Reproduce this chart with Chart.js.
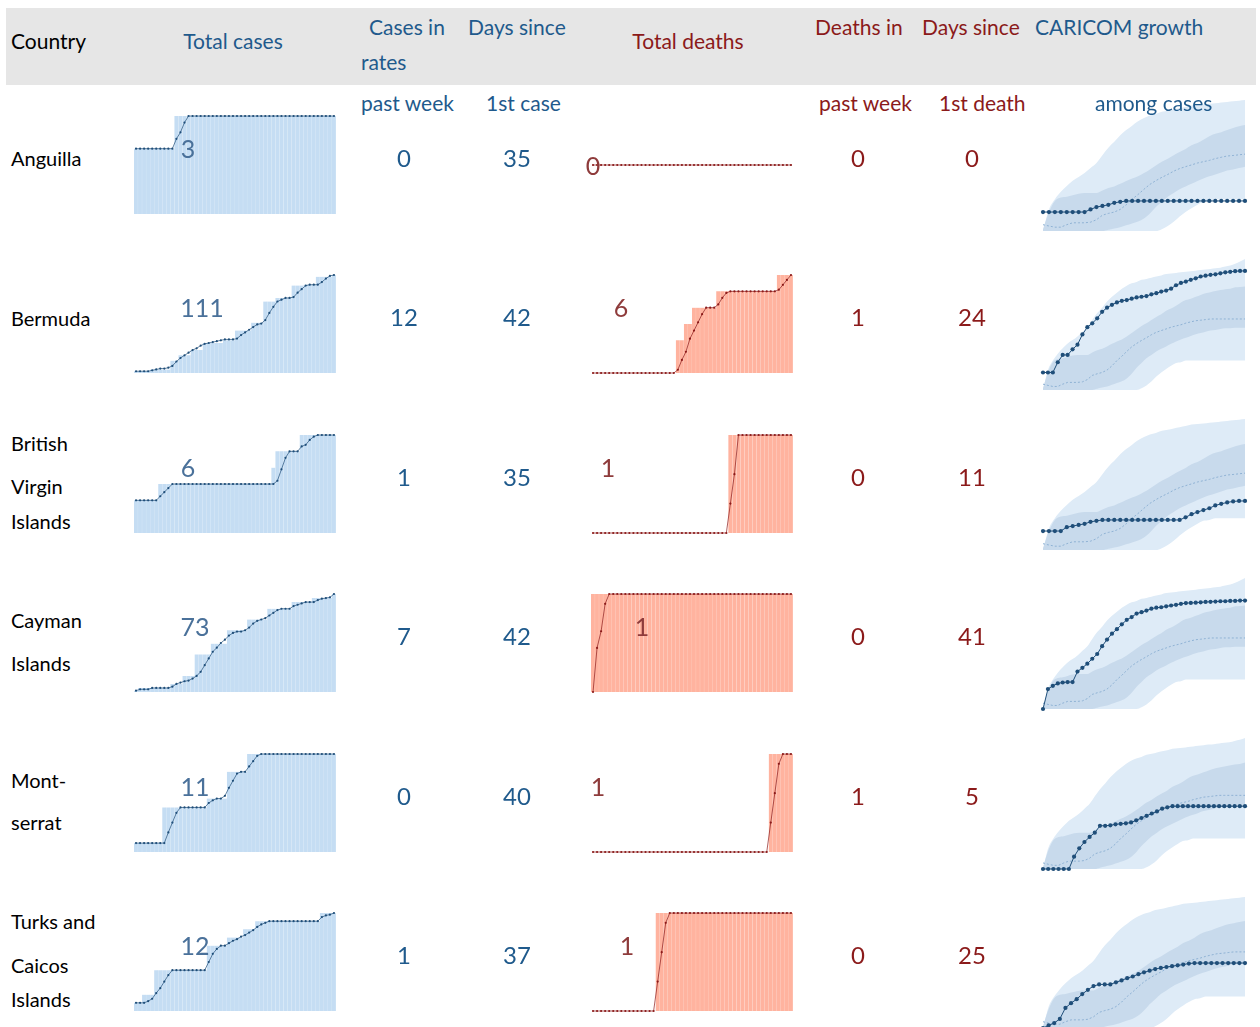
<!DOCTYPE html>
<html>
<head>
<meta charset="utf-8">
<script src="https://cdn.jsdelivr.net/npm/chart.js@4.4.0/dist/chart.umd.min.js"></script>
<style>
  body { margin: 0; background: #fff; font-family: Lato, "Open Sans", sans-serif; }
  #page { position: relative; width: 1260px; height: 1027px; overflow: hidden; }
  .hdr { position: absolute; left: 6px; top: 8px; width: 1250px; height: 77px; background: #e6e6e6; }
  .t { position: absolute; z-index: 2; white-space: nowrap; transform: translateY(-50%); font-size: 21px; line-height: 1; }
  .c { transform: translate(-50%, -50%); }
  .box { position: absolute; z-index: 1; }
</style>
</head>
<body>
<div id="page"><div class="hdr"></div></div>
<script>
// ---- table values ----
var countries = [['Anguilla'], ['Bermuda'], ['British', 'Virgin', 'Islands'], ['Cayman', 'Islands'], ['Mont-', 'serrat'], ['Turks and', 'Caicos', 'Islands']];
var totalCases = [3, 111, 6, 73, 11, 12];
var casesPastWeek = [0, 12, 1, 7, 0, 1];
var daysSinceFirstCase = [35, 42, 35, 42, 40, 37];
var totalDeaths = [0, 6, 1, 1, 1, 1];
var deathsPastWeek = [0, 1, 0, 0, 1, 0];
var daysSinceFirstDeath = [0, 24, 11, 41, 5, 25];

// ---- total cases sparklines (bars + dotted line), 50 days ----
var anguillaCasesBars = [2,2,2,2,2,2,2,2,2,2, 3,3,3,3,3,3,3,3,3,3, 3,3,3,3,3,3,3,3,3,3, 3,3,3,3,3,3,3,3,3,3, 3,3,3,3,3,3,3,3,3,3];
var anguillaCasesLine = [2,2,2,2,2,2,2,2,2,2, 2.3,2.5,2.8,3,3,3,3,3,3,3, 3,3,3,3,3,3,3,3,3,3, 3,3,3,3,3,3,3,3,3,3, 3,3,3,3,3,3,3,3,3,3];
var bermudaCasesBars = [2,2,2,2,4,4,4,4,4,14, 14,20,20,20,26,26,26,34,34,34, 34,34,37,37,37,48,48,48,48,57, 57,57,81,81,81,85,85,85,85,99, 99,99,100,100,100,109,109,109,109,111];
var bermudaCasesLine = [2,2,2,2,3,4,5,5,6,8, 13,17,20,23,26,28,31,33,34,35, 36,37,38,38,38,39,43,46,49,52, 55,56,60,68,75,81,83,85,85,86, 91,95,99,100,100,100,103,107,110,111];
var bviCasesBars = [2,2,2,2,2,2,3,3,3,3, 3,3,3,3,3,3,3,3,3,3, 3,3,3,3,3,3,3,3,3,3, 3,3,3,3,4,5,5,5,5,5, 5,6,6,6,6,6,6,6,6,6];
var bviCasesLine = [2,2,2,2,2,2,2.25,2.5,2.75,3, 3,3,3,3,3,3,3,3,3,3, 3,3,3,3,3,3,3,3,3,3, 3,3,3,3,3,3.2,3.9,4.6,5,5, 5,5.3,5.4,5.7,5.9,6,6,6,6,6];
var caymanCasesBars = [1,3,3,3,3,3,3,3,3,6, 6,6,12,12,12,28,28,28,28,36, 36,36,36,46,46,46,46,46,54,54, 54,54,54,62,62,62,62,62,62,67, 67,67,67,67,70,70,70,70,70,73];
var caymanCasesLine = [1,2,2,2,3,3,3,3,3,4, 6,7,8,8.5,10,12,15,20,25,30, 33,36.5,39,42,44,45,45,46,48,51, 53,54,55,57,59,61,62,62,62,64, 65,66,67,67,67,68.5,69.5,70,70.5,73];
var montserratCasesBars = [1,1,1,1,1,1,1,5,5,5, 5,5,5,5,5,5,5,5,6,6, 6,6,6,9,9,9,9,9,11,11, 11,11,11,11,11,11,11,11,11,11, 11,11,11,11,11,11,11,11,11,11];
var montserratCasesLine = [1,1,1,1,1,1,1,1,2.2,3.3, 4.4,5,5,5,5,5,5,5,5.5,5.8, 6,6,6.3,7.2,8,8.8,9,9,9.6,10.2, 10.8,11,11,11,11,11,11,11,11,11, 11,11,11,11,11,11,11,11,11,11];
var turksCasesBars = [1,1,2,2,2,5,5,5,5,5, 5,5,5,5,5,5,5,5,8,8, 8,8,8,9,9,9,9,10,10,10, 11,11,11,11,11,11,11,11,11,11, 11,11,11,11,11,11,12,12,12,12];
var turksCasesLine = [1,1,1,1.2,1.5,2.2,2.8,3.6,4.4,5, 5,5,5,5,5,5,5,5,6,7, 7.6,8,8,8.3,8.6,8.8,9.1,9.3,9.6,9.9, 10.3,10.6,10.8,11,11,11,11,11,11,11, 11,11,11,11,11,11,11.5,11.7,11.8,12];

// ---- total deaths sparklines, 50 days ----
var anguillaDeathsBars = [0,0,0,0,0,0,0,0,0,0, 0,0,0,0,0,0,0,0,0,0, 0,0,0,0,0,0,0,0,0,0, 0,0,0,0,0,0,0,0,0,0, 0,0,0,0,0,0,0,0,0,0];
var anguillaDeathsLine = [0,0,0,0,0,0,0,0,0,0, 0,0,0,0,0,0,0,0,0,0, 0,0,0,0,0,0,0,0,0,0, 0,0,0,0,0,0,0,0,0,0, 0,0,0,0,0,0,0,0,0,0];
var bermudaDeathsBars = [0,0,0,0,0,0,0,0,0,0, 0,0,0,0,0,0,0,0,0,0, 0,2,2,3,3,4,4,4,4,4, 4,5,5,5,5,5,5,5,5,5, 5,5,5,5,5,5,6,6,6,6];
var bermudaDeathsLine = [0,0,0,0,0,0,0,0,0,0, 0,0,0,0,0,0,0,0,0,0, 0,0.2,0.8,1.3,2.1,2.6,3.1,3.6,4,4, 4,4.2,4.6,4.9,5,5,5,5,5,5, 5,5,5,5,5,5,5.1,5.4,5.7,6];
var bviDeathsBars = [0,0,0,0,0,0,0,0,0,0, 0,0,0,0,0,0,0,0,0,0, 0,0,0,0,0,0,0,0,0,0, 0,0,0,0,1,1,1,1,1,1, 1,1,1,1,1,1,1,1,1,1];
var bviDeathsLine = [0,0,0,0,0,0,0,0,0,0, 0,0,0,0,0,0,0,0,0,0, 0,0,0,0,0,0,0,0,0,0, 0,0,0,0,0.3,0.6,1,1,1,1, 1,1,1,1,1,1,1,1,1,1];
var caymanDeathsBars = [1,1,1,1,1,1,1,1,1,1, 1,1,1,1,1,1,1,1,1,1, 1,1,1,1,1,1,1,1,1,1, 1,1,1,1,1,1,1,1,1,1, 1,1,1,1,1,1,1,1,1,1];
var caymanDeathsLine = [0,0.45,0.62,0.9,1,1,1,1,1,1, 1,1,1,1,1,1,1,1,1,1, 1,1,1,1,1,1,1,1,1,1, 1,1,1,1,1,1,1,1,1,1, 1,1,1,1,1,1,1,1,1,1];
var montserratDeathsBars = [0,0,0,0,0,0,0,0,0,0, 0,0,0,0,0,0,0,0,0,0, 0,0,0,0,0,0,0,0,0,0, 0,0,0,0,0,0,0,0,0,0, 0,0,0,0,1,1,1,1,1,1];
var montserratDeathsLine = [0,0,0,0,0,0,0,0,0,0, 0,0,0,0,0,0,0,0,0,0, 0,0,0,0,0,0,0,0,0,0, 0,0,0,0,0,0,0,0,0,0, 0,0,0,0,0.3,0.6,0.9,1,1,1];
var turksDeathsBars = [0,0,0,0,0,0,0,0,0,0, 0,0,0,0,0,0,1,1,1,1, 1,1,1,1,1,1,1,1,1,1, 1,1,1,1,1,1,1,1,1,1, 1,1,1,1,1,1,1,1,1,1];
var turksDeathsLine = [0,0,0,0,0,0,0,0,0,0, 0,0,0,0,0,0,0.3,0.6,0.9,1, 1,1,1,1,1,1,1,1,1,1, 1,1,1,1,1,1,1,1,1,1, 1,1,1,1,1,1,1,1,1,1];

// ---- CARICOM growth reference bands (cases by days since 1st case) ----
var caricomOuterLow = [1,1,1,1,1,1,1,1,1,1, 1,1,1,1,1,1,1,1,1,1, 1.07,1.2,1.4,1.7,2.0,2.3,2.6,2.9,3.0,3.2, 3.2,3.2,3.2,3.2,3.2,3.2,3.2,3.2,3.2,3.2, 3.2,3.2];
var caricomOuterHigh = [1,2.2,3.2,4.2,5.2,6.3,7.2,8.3,10,12, 16,21,26,33,40,47,55,62,68,72, 78,81,85,89,93,98,100,102,105,107, 110,112,115,117,120,123,126,132,138,148, 162,178];
var caricomInnerLow = [1,1,1,1,1,1,1,1,1,1, 1,1.05,1.1,1.15,1.23,1.32,1.41,1.58,1.9,2.4, 2.9,3.5,4.0,4.6,5.1,5.6,6.2,6.8,7.4,7.9, 8.5,9.1,9.5,10,10.5,10.7,11.2,11.5,11.5,11.7, 11.7,11.7];
var caricomInnerHigh = [1.07,2.0,3.0,3.4,3.5,3.7,3.9,4.0,4.0,4.0, 4.4,4.8,5.1,5.6,6.2,6.8,7.4,8.3,9.5,11, 12.6,14,16,18,20,23,25,28,32,35, 37,40,43,46,48,50,52,54,55,58, 59,60];
var caricomMedian = [1.26,1.2,1.15,1.15,1.26,1.35,1.35,1.35,1.38,1.51, 1.78,1.9,2.0,2.2,2.6,3.2,3.8,4.6,5.5,6.3, 7.1,7.9,8.9,9.8,10.5,11.2,12,12.6,13.2,14.1, 14.8,15.5,15.8,16.2,16.6,16.6,16.6,16.6,16.6,16.6, 16.6,16.6];

// ---- country growth among cases ----
var anguillaGrowth = [2,2,2,2,2,2,2,2,2.2,2.4, 2.5,2.6,2.8,2.9,3,3,3,3,3,3, 3,3,3,3,3,3,3,3,3,3, 3,3,3,3,3];
var bermudaGrowth = [2,2,2,3,4,4,5,6,9,12, 14,17,22,26,29,32,34,35,37,39, 40,41,44,46,49,51,55,63,69,73, 78,83,89,92,95,97,101,105,107,110, 111,111];
var bviGrowth = [2,2,2,2,2.3,2.4,2.5,2.6,2.8,2.9, 3,3,3,3,3,3,3,3,3,3, 3,3,3,3,3.3,3.7,4,4.3,4.6,5.1, 5.4,5.7,5.9,6,6];
var caymanGrowth = [1,2.2,2.5,2.75,2.85,2.9,2.9,4.4,5.1,6, 7.3,8.8,12,15.6,19.7,23.5,28.5,34,38,43.6, 46,49,53,55,56,58,60,61.5,64,66, 66.5,67,68,69,69.5,70,71,71,72,72, 73,73];
var montserratGrowth = [1,1,1,1,1,1,1.6,2.2,2.8,3.4, 4,5.2,5.2,5.3,5.5,5.6,5.7,5.9,6.4,7, 7.6,8.3,9,10,10.5,11,11,11,11,11, 11,11,11,11,11,11,11,11,11,11];
var turksGrowth = [1,1.1,1.2,1.4,2.1,2.5,2.9,3.5,4.1,4.7, 5,5,5,5.4,5.8,6.3,6.7,7.3,7.8,8.3, 8.8,9.2,9.5,9.8,10.1,10.4,10.8,11,11,11, 11,11,11,11,11,11,11];

var casesBars = [anguillaCasesBars, bermudaCasesBars, bviCasesBars, caymanCasesBars, montserratCasesBars, turksCasesBars];
var casesLine = [anguillaCasesLine, bermudaCasesLine, bviCasesLine, caymanCasesLine, montserratCasesLine, turksCasesLine];
var deathsBars = [anguillaDeathsBars, bermudaDeathsBars, bviDeathsBars, caymanDeathsBars, montserratDeathsBars, turksDeathsBars];
var deathsLine = [anguillaDeathsLine, bermudaDeathsLine, bviDeathsLine, caymanDeathsLine, montserratDeathsLine, turksDeathsLine];
var growthLine = [anguillaGrowth, bermudaGrowth, bviGrowth, caymanGrowth, montserratGrowth, turksGrowth];

// ---- layout ----
var rowY = [158, 317, 477, 636, 796, 955];
var nameLineY = [[158], [318], [443, 486, 521], [620, 663], [780, 822], [921, 965, 999]];
var casesLabelX = [188, 202, 188, 195, 195, 195];
var deathsLabelX = [593, 621, 608, 642, 598, 627];
var deathsLabelDy = [7, -10, -10, -10, -10, -10];

var BLUE = '#1f5a8c';
var RED = '#8b1a1a';
var page = document.getElementById('page');

function addText(str, x, y, color, size, centered) {
  var el = document.createElement('div');
  el.className = centered ? 't c' : 't';
  el.textContent = str;
  el.style.left = x + 'px';
  el.style.top = y + 'px';
  el.style.color = color;
  if (size) el.style.fontSize = size + 'px';
  page.appendChild(el);
}

function makeCanvas(left, top, w, h, pad) {
  var div = document.createElement('div');
  div.className = 'box';
  div.style.left = (left - pad) + 'px';
  div.style.top = (top - pad) + 'px';
  div.style.width = (w + 2 * pad) + 'px';
  div.style.height = (h + 2 * pad) + 'px';
  var cv = document.createElement('canvas');
  div.appendChild(cv);
  page.appendChild(div);
  return cv;
}

var baseOptions = function (pad) {
  return {
    responsive: true,
    maintainAspectRatio: false,
    animation: false,
    events: [],
    layout: { padding: pad },
    plugins: { legend: { display: false }, tooltip: { enabled: false } }
  };
};

// bars of the daily total plus the dotted line on top
function sparkline(left, top, bars, line, barColor, edgeColor, lineColor, zeroBase) {
  var pad = 3;
  var cv = makeCanvas(left, top, 204, 100, pad);
  var opts = baseOptions(pad);
  opts.scales = {
    x: { display: false },
    y: { display: false, bounds: 'data', beginAtZero: zeroBase }
  };
  new Chart(cv, {
    type: 'bar',
    data: {
      labels: bars.map(function (v, i) { return i; }),
      datasets: [
        { type: 'line', data: line, borderColor: lineColor, borderWidth: 0.7,
          pointRadius: 1.1, pointBackgroundColor: lineColor, pointBorderWidth: 0, order: 0 },
        { type: 'bar', data: bars, backgroundColor: barColor, borderColor: edgeColor,
          borderWidth: { left: 0, right: 0.5, top: 0, bottom: 0 },
          barPercentage: 1, categoryPercentage: 1, order: 1 }
      ]
    },
    options: opts
  });
}

function growthChart(left, top, n, series) {
  var pad = 3;
  var cv = makeCanvas(left, top, 204, 133, pad);
  var opts = baseOptions(pad);
  opts.scales = {
    x: { display: false },
    y: { type: 'logarithmic', display: false, bounds: 'data' }
  };
  var band = { borderWidth: 0, pointRadius: 0, cubicInterpolationMode: 'monotone' };
  new Chart(cv, {
    type: 'line',
    data: {
      labels: series.map(function (v, i) { return i; }),
      datasets: [
        Object.assign({ data: caricomOuterLow.slice(0, n), fill: false, order: 6 }, band),
        Object.assign({ data: caricomOuterHigh.slice(0, n), fill: '-1', backgroundColor: '#deebf7', order: 5 }, band),
        Object.assign({ data: caricomInnerLow.slice(0, n), fill: false, order: 6 }, band),
        Object.assign({ data: caricomInnerHigh.slice(0, n), fill: '-1', backgroundColor: '#c8daec', order: 4 }, band),
        { data: caricomMedian.slice(0, n), borderColor: '#8fb2d4', borderWidth: 1, borderDash: [2, 2],
          pointRadius: 0, fill: false, order: 2 },
        { data: series, borderColor: '#1f4e79', borderWidth: 1, pointRadius: 2.1,
          pointBackgroundColor: '#1f4e79', pointBorderWidth: 0, fill: false, order: 1 }
      ]
    },
    options: opts
  });
}

// ---- header ----
addText('Country', 11, 40, '#000');
addText('Total cases', 233, 40, BLUE, null, true);
addText('Cases in', 369, 26, BLUE);
addText('rates', 361, 61, BLUE);
addText('Days since', 468, 26, BLUE);
addText('Total deaths', 688, 40, RED, null, true);
addText('Deaths in', 815, 26, RED);
addText('Days since', 922, 26, RED);
addText('CARICOM growth', 1035, 26, BLUE);
addText('past week', 361, 102, BLUE);
addText('1st case', 486, 102, BLUE);
addText('past week', 819, 102, RED);
addText('1st death', 939, 102, RED);
addText('among cases', 1095, 102, BLUE);

// ---- rows ----
for (var r = 0; r < countries.length; r++) {
  var cy = rowY[r];
  for (var k = 0; k < countries[r].length; k++) {
    addText(countries[r][k], 11, nameLineY[r][k], '#000', 20);
  }
  sparkline(133, cy - 43, casesBars[r], casesLine[r], '#c5ddf3', 'rgba(160,196,230,0.25)', '#1f4e79', true);
  sparkline(590, cy - 43, deathsBars[r], deathsLine[r], '#ffb39f', 'rgba(240,150,130,0.2)', '#8b1a1a', false);
  growthChart(1042, cy - 59, daysSinceFirstCase[r], growthLine[r]);

  addText(String(totalCases[r]), casesLabelX[r], cy - 10, '#4a719a', 25, true);
  addText(String(totalDeaths[r]), deathsLabelX[r], cy + deathsLabelDy[r], '#8e3b3b', 25, true);
  addText(String(casesPastWeek[r]), 404, cy, BLUE, 24, true);
  addText(String(daysSinceFirstCase[r]), 517, cy, BLUE, 24, true);
  addText(String(deathsPastWeek[r]), 858, cy, RED, 24, true);
  addText(String(daysSinceFirstDeath[r]), 972, cy, RED, 24, true);
}
</script>
</body>
</html>
